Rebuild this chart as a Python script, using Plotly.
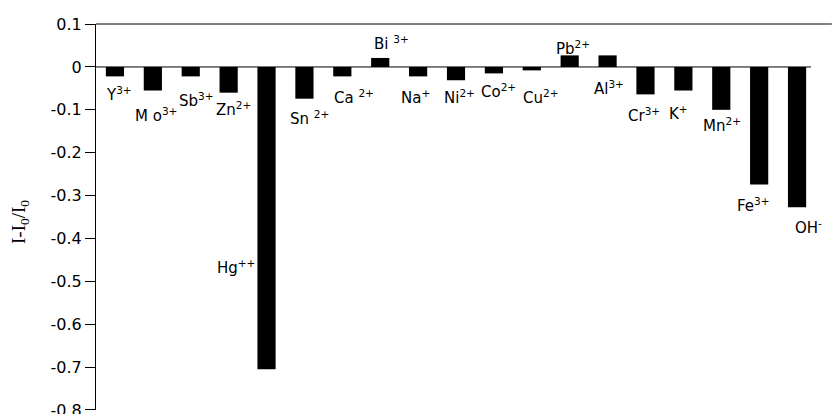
import plotly.graph_objects as go

# ---- data ----
ions = ["Y3+", "Mo3+", "Sb3+", "Zn2+", "Hg++", "Sn2+", "Ca2+", "Bi3+", "Na+", "Ni2+",
        "Co2+", "Cu2+", "Pb2+", "Al3+", "Cr3+", "K+", "Mn2+", "Fe3+", "OH-"]
values = [-0.022, -0.055, -0.022, -0.060, -0.705, -0.074, -0.022, 0.021, -0.022, -0.031,
          -0.015, -0.008, 0.027, 0.027, -0.064, -0.055, -0.100, -0.274, -0.327]
label_texts = ["Y<sup>3+</sup>", "M o<sup>3+</sup>", "Sb<sup>3+</sup>", "Zn<sup>2+</sup>",
               "Hg<sup>++</sup>", "Sn <sup>2+</sup>", "Ca <sup>2+</sup>", "Bi <sup>3+</sup>",
               "Na<sup>+</sup>", "Ni<sup>2+</sup>", "Co<sup>2+</sup>", "Cu<sup>2+</sup>",
               "Pb<sup>2+</sup>", "Al<sup>3+</sup>", "Cr<sup>3+</sup>", "K<sup>+</sup>",
               "Mn<sup>2+</sup>", "Fe<sup>3+</sup>", "OH<sup>-</sup>"]
tick_vals = [0.1, 0.0, -0.1, -0.2, -0.3, -0.4, -0.5, -0.6, -0.7, -0.8]
tick_text = ["0.1", "0", "-0.1", "-0.2", "-0.3", "-0.4", "-0.5", "-0.6", "-0.7", "-0.8"]

# ---- label placement (annotation positions, not data) ----
label_y = [-0.062, -0.113, -0.078, -0.097, -0.467, -0.120, -0.071, 0.055, -0.071, -0.071,
           -0.055, -0.071, 0.045, -0.050, -0.113, -0.108, -0.136, -0.323, -0.374]
label_dx = [4.5, 3.5, 6, 4.5, -31, 5, 11.5, 11, -3, 3.5,
            4.5, 9, 3, 1, -1.5, -5, 1, -6, 11.5]

fig = go.Figure()
fig.add_trace(go.Bar(x=ions, y=values, width=0.48,
                     marker=dict(color="black", line=dict(width=0)),
                     hoverinfo="x+y"))

for t, ion, ly, dx in zip(label_texts, ions, label_y, label_dx):
    fig.add_annotation(x=ion, y=ly, xref="x", yref="y", text=t, showarrow=False,
                       xshift=dx, xanchor="center", yanchor="middle",
                       font=dict(family="DejaVu Sans", size=15, color="black"))

# y-axis title
fig.add_annotation(xref="paper", yref="paper", x=-0.1056, y=0.487,
                   text="I-I<sub>0</sub>/I<sub>0</sub>", textangle=-90, showarrow=False,
                   xanchor="center", yanchor="middle",
                   font=dict(family="Liberation Serif", size=19, color="black"))

# zero line and top border line
fig.add_shape(type="line", xref="paper", yref="y", x0=0, x1=0.993, y0=0, y1=0,
              line=dict(color="black", width=1))
fig.add_shape(type="line", xref="paper", yref="paper", x0=0, x1=1.022, y0=1, y1=1,
              line=dict(color="black", width=1))

fig.update_layout(
    width=833, height=414,
    margin=dict(l=96, r=17, t=24, b=4, autoexpand=False),
    paper_bgcolor="white", plot_bgcolor="white",
    showlegend=False,
    bargap=0.52,
)
fig.update_xaxes(showticklabels=False, showline=False, ticks="", showgrid=False,
                 zeroline=False, range=[-0.5, 18.5], automargin=False)
fig.update_yaxes(range=[-0.8002, 0.1002], tickvals=tick_vals, ticktext=tick_text,
                 showline=True, linecolor="black", linewidth=1,
                 ticks="outside", ticklen=10, tickcolor="black", tickwidth=1,
                 showgrid=False, zeroline=False, ticklabeloverflow="allow",
                 automargin=False,
                 tickfont=dict(family="DejaVu Sans", size=16, color="black"))

fig.write_html("out.html")
